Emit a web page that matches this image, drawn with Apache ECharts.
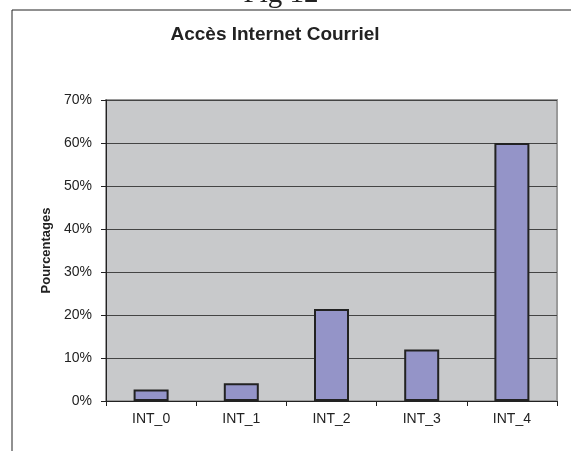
<!DOCTYPE html>
<html>
<head>
<meta charset="utf-8">
<script src="https://cdn.jsdelivr.net/npm/echarts@6/dist/echarts.min.js"></script>
<style>
  html, body { margin: 0; padding: 0; background: #fff; }
  #chart { width: 571px; height: 451px; }
</style>
</head>
<body>
<div id="chart"></div>
<script>
const categories = ['INT_0', 'INT_1', 'INT_2', 'INT_3', 'INT_4'];
const values = [2.7, 4.1, 21.4, 12.0, 60.0];
const yTicks = [0, 10, 20, 30, 40, 50, 60, 70];

const chart = echarts.init(document.getElementById('chart'));
const font = 'Liberation Sans, Arial, sans-serif';

const option = {
	backgroundColor: '#fff',
	animation: false,
	title: {
		text: 'Accès Internet Courriel',
		left: 270,
		textAlign: 'center',
		top: 20,
		textStyle: { fontFamily: font, fontSize: 19, fontWeight: 'bold', color: '#222' }
	},
	graphic: [
		{
			type: 'rect',
			shape: { x: 12, y: 10, width: 620, height: 500 },
			style: { fill: 'none', stroke: '#222', lineWidth: 1 }
		},
		{
			type: 'text',
			x: 281,
			y: 9,
			style: {
				text: 'Fig 12',
				fontFamily: 'Liberation Serif, Times New Roman, serif',
				fontSize: 29,
				fill: '#222',
				textAlign: 'center',
				textVerticalAlign: 'bottom'
			}
		}
	],
	grid: {
		left: 106,
		right: 14,
		top: 100,
		bottom: 50,
		show: true,
		backgroundColor: '#C8C9CB',
		borderColor: '#9a9a9a',
		borderWidth: 2
	},
	xAxis: {
		type: 'category',
		data: categories,
		axisLine: { lineStyle: { color: '#222', width: 1 } },
		axisTick: { show: true, length: 5, lineStyle: { color: '#222' } },
		axisLabel: { fontFamily: font, fontSize: 14, color: '#222', margin: 11 }
	},
	yAxis: {
		type: 'value',
		min: yTicks[0],
		max: yTicks[yTicks.length - 1],
		interval: 10,
		name: 'Pourcentages',
		nameLocation: 'middle',
		nameGap: 53,
		nameTextStyle: { fontFamily: font, fontSize: 13, fontWeight: 'bold', color: '#222' },
		axisLine: { show: true, lineStyle: { color: '#222', width: 1 } },
		axisTick: { show: true, length: 5, lineStyle: { color: '#222' } },
		axisLabel: { fontFamily: font, fontSize: 14, color: '#222', margin: 14, formatter: '{value}%' },
		splitLine: { show: true, lineStyle: { color: '#444', width: 1 } }
	},
	series: [
		{
			type: 'bar',
			data: values,
			barWidth: 35,
			itemStyle: { color: '#9494C8', borderColor: '#222', borderWidth: 2 }
		}
	]
};

chart.setOption(option);
</script>
</body>
</html>
